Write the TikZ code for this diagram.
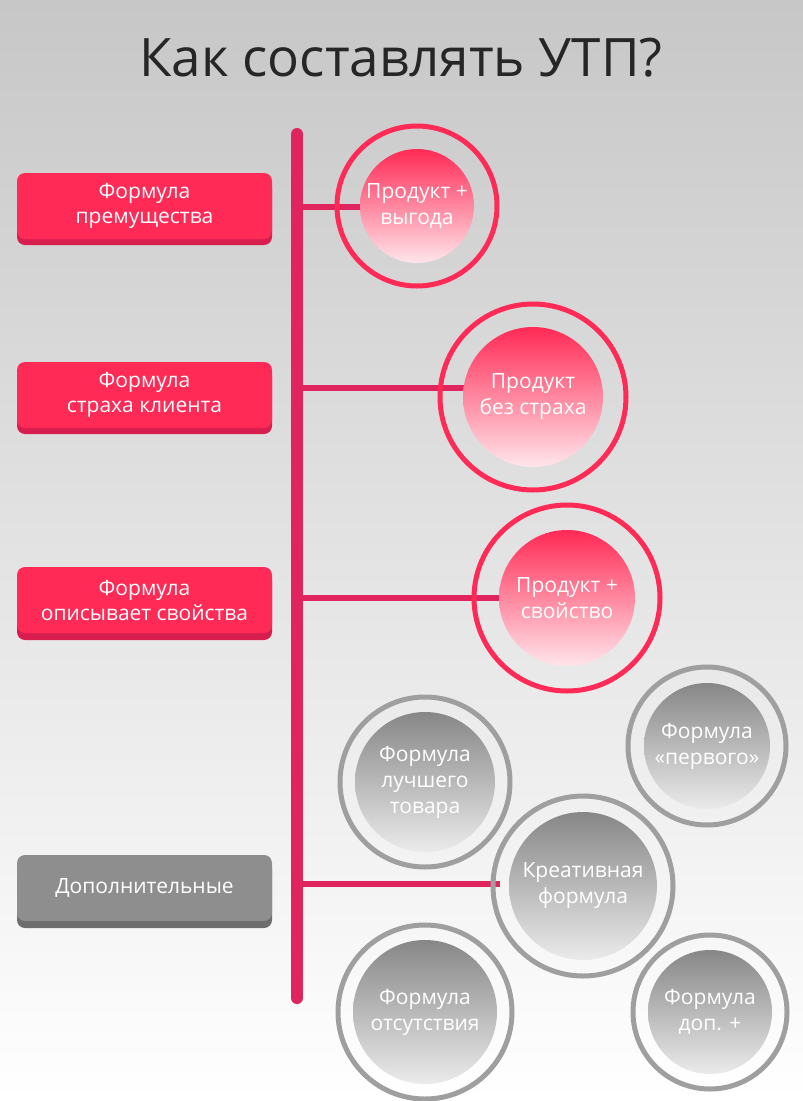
\documentclass[tikz,border=0pt]{standalone}
\usepackage{fontspec}
\setmainfont{Open Sans}
\usetikzlibrary{shadows}
\definecolor{pk}{HTML}{FF2A55}
\definecolor{pkd}{HTML}{D81E4E}
\definecolor{bar}{HTML}{E0245E}
\definecolor{gr}{HTML}{8E8E8E}
\definecolor{grd}{HTML}{6E6E6E}
\begin{document}
\begin{tikzpicture}[x=1pt,y=-1pt,
 lbl/.style={rounded corners=8pt,minimum width=255pt,minimum height=66pt,text=white,font=\fontsize{21}{25}\selectfont,align=center,fill=pk,draw=none},
 lblg/.style={lbl,fill=gr},
 ptxt/.style={text=white,font=\fontsize{21}{26}\selectfont,align=center},
 conn/.style={line width=6pt,color=bar},
 ring/.style={line width=5pt,draw=pk,fill=none},
 ringg/.style={line width=5pt,draw=gr!85,fill=none}]
\shade[top color=black!22,bottom color=white] (0,0) rectangle (803,1101);
\useasboundingbox (0,0) rectangle (803,1101);
\node (title) at (401,58) {\fontsize{53}{60}\selectfont\color{black!85}Как составлять УТП?};
\draw[line width=12pt,color=bar,line cap=round] (297,134) coordinate (top) -- (297,998) coordinate (bot);
\fill[pkd,rounded corners=8pt] (17,179) rectangle (272,245);
\fill[pkd,rounded corners=8pt] (17,368) rectangle (272,434);
\fill[pkd,rounded corners=8pt] (17,573) rectangle (272,640);
\fill[grd,rounded corners=8pt] (17,861) rectangle (272,928);
\node[lbl] (l1) at (144.5,206) {Формула\\премущества};
\node[lbl] (l2) at (144.5,395) {Формула\\страха клиента};
\node[lbl] (l3) at (144.5,600) {Формула\\описывает свойства};
\node[lblg] (l4) at (144.5,888) {Дополнительные};
\newcommand\pcirc[6]{%
 \shade[top color=pk,bottom color=pk!12] (#2,#3) circle (#4);
 \draw[ring] (#2,#3) circle (#5);
 \node[ptxt,circle,minimum size=2*#4] (#1) at (#2,#3) {#6};}
\newcommand\gcirc[6]{%
 \shade[top color=gr!95!black,bottom color=black!8] (#2,#3) circle (#4);
 \draw[ringg] (#2,#3) circle (#5);
 \node[ptxt,circle,minimum size=2*#4] (#1) at (#2,#3) {#6};}
\coordinate (j1) at (297,207);
\coordinate (j2) at (297,388);
\coordinate (j3) at (297,598);
\coordinate (j4) at (297,884);
\draw[conn] (j1) -- (362,207);
\draw[conn] (j2) -- (465,388);
\draw[conn] (j3) -- (500,598);
\draw[conn] (j4) -- (500,884);
\pcirc{c1}{417}{206}{57}{80}{Продукт +\\выгода}
\pcirc{c2}{533}{397}{70}{93}{Продукт\\без страха}
\pcirc{c3}{567}{598}{68}{93}{Продукт +\\свойство}
\gcirc{g1}{425}{782}{70}{85}{Формула\\лучшего\\товара}
\gcirc{g2}{707}{746}{63}{79}{Формула\\«первого»}
\gcirc{g3}{583}{886}{74}{90}{Креативная\\формула}
\gcirc{g4}{425}{1012}{72}{87}{Формула\\отсутствия}
\gcirc{g5}{710}{1012}{62}{77}{Формула\\доп. +}
\end{tikzpicture}
\end{document}
